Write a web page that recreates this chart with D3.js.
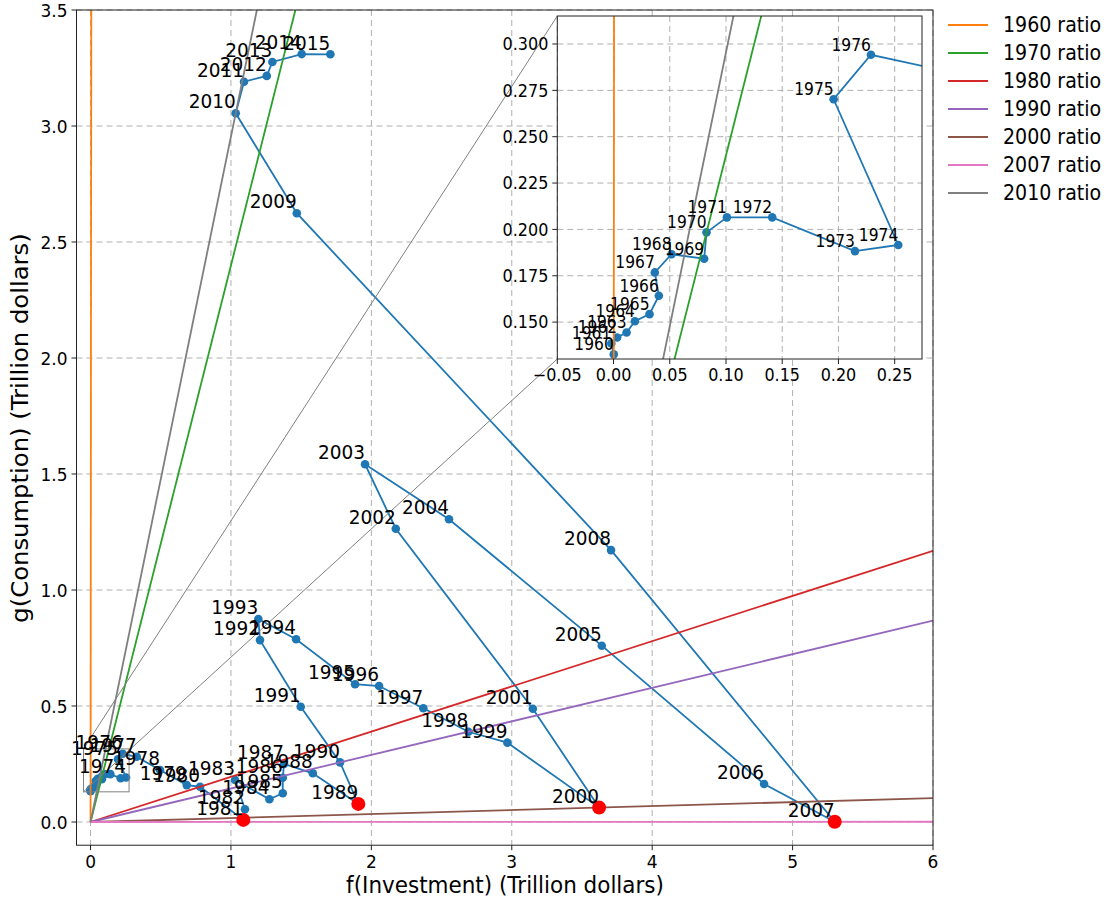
<!DOCTYPE html>
<html>
<head>
<meta charset="utf-8">
<script src="https://d3js.org/d3.v7.min.js"></script>
<style>
  body { margin: 0; background: #fff; }
  text { font-family: "DejaVu Sans", sans-serif; fill: #000; }
</style>
</head>
<body>
<svg id="chart" width="1110" height="903"></svg>
<script>
// one value per year, 1960..2015 (trillion dollars)
const years = d3.range(1960, 2016);
const investment = [
  0.0002, -0.002, 0.0032, 0.0116, 0.0190, 0.0320, 0.0403, 0.0367, 0.0516, 0.0806,
  0.0827, 0.1008, 0.1411, 0.2147, 0.2532, 0.1957, 0.2289, 0.329, 0.495, 0.685,
  0.780, 1.088, 1.100, 1.029, 1.274, 1.369, 1.369, 1.378, 1.583, 1.907,
  1.777, 1.497, 1.207, 1.195, 1.464, 1.884, 2.055, 2.370, 2.691, 2.969,
  3.622, 3.150, 2.174, 1.955, 2.553, 3.641, 4.797, 5.300, 3.707, 1.469,
  1.034, 1.093, 1.255, 1.295, 1.504, 1.708
];
const consumption = [
  0.1326, 0.1385, 0.1417, 0.1444, 0.1505, 0.1543, 0.1642, 0.1768, 0.1866, 0.1842,
  0.1984, 0.2065, 0.2065, 0.1883, 0.1916, 0.2702, 0.2942, 0.281, 0.224, 0.159,
  0.152, 0.009, 0.055, 0.181, 0.098, 0.124, 0.191, 0.250, 0.210, 0.078,
  0.257, 0.497, 0.784, 0.875, 0.788, 0.594, 0.586, 0.490, 0.389, 0.342,
  0.062, 0.488, 1.264, 1.542, 1.305, 0.760, 0.164, 0.001, 1.172, 2.624,
  3.055, 3.191, 3.216, 3.276, 3.310, 3.309
];
const redYears = [1981, 1989, 2000, 2007];
const ratioYears = [1960, 1970, 1980, 1990, 2000, 2007, 2010];
const ratioColors = ["#ff7f0e", "#2ca02c", "#d62728", "#9467bd", "#8c564b", "#e377c2", "#7f7f7f"];
const firstMainLabel = 1974;

const xTicks = [0, 1, 2, 3, 4, 5, 6];
const yTicks = [0, 0.5, 1, 1.5, 2, 2.5, 3, 3.5];
const insetXTicks = [-0.05, 0, 0.05, 0.1, 0.15, 0.2, 0.25];
const insetYTicks = [0.15, 0.175, 0.2, 0.225, 0.25, 0.275, 0.3];
const insetXDomain = [-0.05, 0.2743];
const insetYDomain = [0.1301, 0.3151];

const data = years.map((y, i) => ({ year: y, x: investment[i], y: consumption[i] }));
const ratio = yr => { const d = data.find(p => p.year === yr); return d.y / d.x; };

const svg = d3.select("#chart");
svg.append("rect").attr("width", 1110).attr("height", 903).attr("fill", "#fff");

const blue = "#1f77b4";
const gridColor = "#b0b0b0";
const stretch = 1.08; // text in the picture is a bit taller than wide

function drawPanel(g, x, y, opts) {
  const [x0, x1] = x.range(), [y1, y0] = y.range();
  const id = opts.id;
  g.append("clipPath").attr("id", id).append("rect")
    .attr("x", x0).attr("y", y0).attr("width", x1 - x0).attr("height", y1 - y0);

  g.append("rect").attr("x", x0).attr("y", y0).attr("width", x1 - x0).attr("height", y1 - y0)
    .attr("fill", "#fff");

  // grid
  const grid = g.append("g").attr("stroke", gridColor).attr("stroke-width", 1).attr("stroke-dasharray", "6,4");
  grid.selectAll(".gx").data(opts.xTicks).join("line")
    .attr("x1", d => x(d)).attr("x2", d => x(d)).attr("y1", y0).attr("y2", y1);
  grid.selectAll(".gy").data(opts.yTicks).join("line")
    .attr("y1", d => y(d)).attr("y2", d => y(d)).attr("x1", x0).attr("x2", x1);

  const plot = g.append("g").attr("clip-path", `url(#${id})`);

  const line = d3.line().x(d => x(d.x)).y(d => y(d.y));
  plot.append("path").datum(data).attr("d", line)
    .attr("fill", "none").attr("stroke", blue).attr("stroke-width", 1.8);
  plot.selectAll(".pt").data(data).join("circle")
    .attr("cx", d => x(d.x)).attr("cy", d => y(d.y)).attr("r", opts.r).attr("fill", blue);

  // ratio lines y = r * x from the origin
  ratioYears.forEach((yr, i) => {
    const r = ratio(yr);
    plot.append("line")
      .attr("x1", x(0)).attr("y1", y(0)).attr("x2", x(6)).attr("y2", y(6 * r))
      .attr("stroke", ratioColors[i]).attr("stroke-width", 1.8);
  });

  if (opts.red) {
    plot.selectAll(".red").data(data.filter(d => redYears.includes(d.year))).join("circle")
      .attr("cx", d => x(d.x)).attr("cy", d => y(d.y)).attr("r", 7).attr("fill", "#ff0000");
  }

  if (opts.extra) opts.extra(g);

  // year labels (bottom-right corner at the point)
  const [dx0, dx1] = x.domain(), [dy0, dy1] = y.domain();
  g.selectAll(".lab").data(data.filter(d => opts.labelFilter(d) &&
      d.x >= dx0 && d.x <= dx1 && d.y >= dy0 && d.y <= dy1)).join("text")
    .attr("x", d => x(d.x)).attr("y", d => y(d.y) - opts.fs * 0.26)
    .attr("text-anchor", "end").attr("font-size", opts.fs)
    .text(d => d.year);

  // frame
  g.append("rect").attr("x", x0).attr("y", y0).attr("width", x1 - x0).attr("height", y1 - y0)
    .attr("fill", "none").attr("stroke", "#222").attr("stroke-width", 1);

  // ticks
  const tk = g.append("g").attr("stroke", "#222").attr("stroke-width", 1);
  tk.selectAll(".tx").data(opts.xTicks).join("line")
    .attr("x1", d => x(d)).attr("x2", d => x(d)).attr("y1", y1).attr("y2", y1 + 5);
  tk.selectAll(".ty").data(opts.yTicks).join("line")
    .attr("y1", d => y(d)).attr("y2", d => y(d)).attr("x1", x0).attr("x2", x0 - 5);
  g.selectAll(".txl").data(opts.xTicks).join("text")
    .attr("x", d => x(d)).attr("y", y1 + 9 + opts.tfs * 0.76 * stretch)
    .attr("text-anchor", "middle").attr("font-size", opts.tfs)
    .text(opts.xFmt);
  g.selectAll(".tyl").data(opts.yTicks).join("text")
    .attr("x", x0 - 9).attr("y", d => y(d)).attr("dy", "0.36em")
    .attr("text-anchor", "end").attr("font-size", opts.tfs)
    .text(opts.yFmt);
}

// main axes
const x = d3.scaleLinear().domain([-0.1, 6]).range([76.5, 933]);
const y = d3.scaleLinear().domain([-0.1, 3.5]).range([845.2, 10]);

// inset axes
const ix = d3.scaleLinear().domain(insetXDomain).range([557.3, 922]);
const iy = d3.scaleLinear().domain(insetYDomain).range([359, 16]);

const mainG = svg.append("g");
drawPanel(mainG, x, y, {
  id: "clipMain", xTicks, yTicks, r: 4.3, red: true, fs: 18.5, tfs: 17,
  labelFilter: d => d.year >= firstMainLabel,
  xFmt: d3.format("d"), yFmt: d3.format(".1f"),
  extra: g => {
    // zoom box and connectors to the inset
    const bx0 = x(insetXDomain[0]), bx1 = x(insetXDomain[1]);
    const by0 = y(insetYDomain[1]), by1 = y(insetYDomain[0]);
    g.append("rect").attr("x", bx0).attr("y", by0).attr("width", bx1 - bx0).attr("height", by1 - by0)
      .attr("fill", "none").attr("stroke", "#808080").attr("stroke-width", 1);
    g.append("line").attr("x1", bx0).attr("y1", by0).attr("x2", ix.range()[0]).attr("y2", iy.range()[1])
      .attr("stroke", "#808080").attr("stroke-width", 1);
    g.append("line").attr("x1", bx0).attr("y1", by1).attr("x2", ix.range()[0]).attr("y2", iy.range()[0])
      .attr("stroke", "#808080").attr("stroke-width", 1);
  }
});

const insetG = svg.append("g");
drawPanel(insetG, ix, iy, {
  id: "clipInset", xTicks: insetXTicks, yTicks: insetYTicks, r: 4.3, red: false, fs: 15.5, tfs: 16,
  labelFilter: d => true,
  xFmt: d => d3.format(".2f")(d).replace("-", "\u2212"), yFmt: d3.format(".3f")
});

// legend
const legend = svg.append("g");
ratioYears.forEach((yr, i) => {
  const ly = 25 + i * 28;
  legend.append("line").attr("x1", 948).attr("x2", 988).attr("y1", ly).attr("y2", ly)
    .attr("stroke", ratioColors[i]).attr("stroke-width", 2);
  legend.append("text").attr("x", 1003).attr("y", ly).attr("dy", "0.36em")
    .attr("font-size", 19).text(`${yr} ratio`);
});

// x title
svg.append("text").attr("x", 505).attr("y", 893).attr("text-anchor", "middle")
  .attr("font-size", 21.5).text("f(Investment) (Trillion dollars)");

// stretch every text a little in height, around its own anchor
svg.selectAll("text").each(function () {
  const t = d3.select(this);
  const tx = +t.attr("x"), ty = +t.attr("y");
  t.attr("x", 0).attr("y", 0).attr("transform", `translate(${tx},${ty}) scale(1,${stretch})`);
});

// y title (rotated, so the stretch runs along it)
svg.append("text").attr("transform", `translate(28,428) scale(1,${stretch}) rotate(-90)`)
  .attr("text-anchor", "middle").attr("font-size", 22.5).text("g(Consumption) (Trillion dollars)");
</script>
</body>
</html>
